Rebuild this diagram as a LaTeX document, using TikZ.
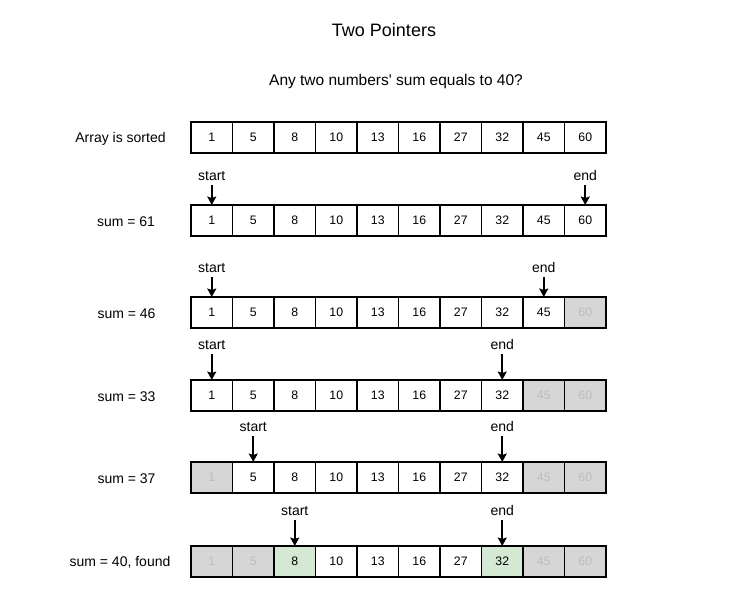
\documentclass[tikz,border=0pt]{standalone}
\usepackage{fontspec}
\setmainfont{Liberation Sans}
\usetikzlibrary{arrows.meta,positioning}
\definecolor{cellgray}{HTML}{D6D6D6}
\definecolor{graytext}{HTML}{BDBDBD}
\definecolor{cellgreen}{HTML}{D5E8D4}
\tikzset{
  cell/.style={draw=black, line width=1.6pt, minimum width=41.5pt, minimum height=31pt,
    inner sep=0pt, outer sep=0pt, anchor=north west, font=\fontsize{12.3}{14}\selectfont},
  plain/.style={fill=white},
  off/.style={fill=cellgray, text=graytext},
  hit/.style={fill=cellgreen},
  rowlabel/.style={font=\fontsize{14}{16}\selectfont},
  ptrlabel/.style={font=\fontsize{14}{16}\selectfont, inner sep=0pt, outer sep=0pt},
  ptr/.style={line width=1.6pt, -{Stealth[length=8.5pt,width=9pt,inset=1.5pt]}, shorten <=4.5pt},
  titletext/.style={font=\fontsize{18}{22}\selectfont},
  subtitletext/.style={font=\fontsize{15.5}{18}\selectfont},
}
\newcommand\cellrow[3]{%
  \foreach \v/\s [count=\i] in {#3} {
    \node[cell,\s] (#1c\i) at ({191+41.5*(\i-1)}, #2) {\v};
  }}
\begin{document}
\begin{tikzpicture}[x=1pt,y=-1pt]
\useasboundingbox (0,0) rectangle (750,603);

\node[titletext] (title) at (384,30) {Two Pointers};
\node[subtitletext] (subtitle) at (396,81) {Any two numbers\textquotesingle{} sum equals to 40?};

% row 1
\node[rowlabel] (l1) at (120.5,138.5) {Array is sorted};
\cellrow{r1}{122}{1/plain,5/plain,8/plain,10/plain,13/plain,16/plain,27/plain,32/plain,45/plain,60/plain}

% row 2
\node[rowlabel] (l2) at (126,221.5) {sum = 61};
\cellrow{r2}{205}{1/plain,5/plain,8/plain,10/plain,13/plain,16/plain,27/plain,32/plain,45/plain,60/plain}
\node[ptrlabel, above=24.5pt of r2c1.north] (r2s) {start};
\node[ptrlabel, above=24.5pt of r2c10.north] (r2e) {end};
\draw[ptr] (r2s) -- (r2c1);
\draw[ptr] (r2e) -- (r2c10);

% row 3
\node[rowlabel] (l3) at (126.5,313.5) {sum = 46};
\cellrow{r3}{297}{1/plain,5/plain,8/plain,10/plain,13/plain,16/plain,27/plain,32/plain,45/plain,60/off}
\node[ptrlabel, above=24.5pt of r3c1.north] (r3s) {start};
\node[ptrlabel, above=24.5pt of r3c9.north] (r3e) {end};
\draw[ptr] (r3s) -- (r3c1);
\draw[ptr] (r3e) -- (r3c9);

% row 4
\node[rowlabel] (l4) at (126.5,396.5) {sum = 33};
\cellrow{r4}{380}{1/plain,5/plain,8/plain,10/plain,13/plain,16/plain,27/plain,32/plain,45/off,60/off}
\node[ptrlabel, above=30.5pt of r4c1.north] (r4s) {start};
\node[ptrlabel, above=30.5pt of r4c8.north] (r4e) {end};
\draw[ptr] (r4s) -- (r4c1);
\draw[ptr] (r4e) -- (r4c8);

% row 5
\node[rowlabel] (l5) at (126.5,478.5) {sum = 37};
\cellrow{r5}{462}{1/off,5/plain,8/plain,10/plain,13/plain,16/plain,27/plain,32/plain,45/off,60/off}
\node[ptrlabel, above=30.5pt of r5c2.north] (r5s) {start};
\node[ptrlabel, above=30.5pt of r5c8.north] (r5e) {end};
\draw[ptr] (r5s) -- (r5c2);
\draw[ptr] (r5e) -- (r5c8);

% row 6
\node[rowlabel] (l6) at (120,562) {sum = 40, found};
\cellrow{r6}{546}{1/off,5/off,8/hit,10/plain,13/plain,16/plain,27/plain,32/hit,45/off,60/off}
\node[ptrlabel, above=30.5pt of r6c3.north] (r6s) {start};
\node[ptrlabel, above=30.5pt of r6c8.north] (r6e) {end};
\draw[ptr] (r6s) -- (r6c3);
\draw[ptr] (r6e) -- (r6c8);
\end{tikzpicture}
\end{document}
